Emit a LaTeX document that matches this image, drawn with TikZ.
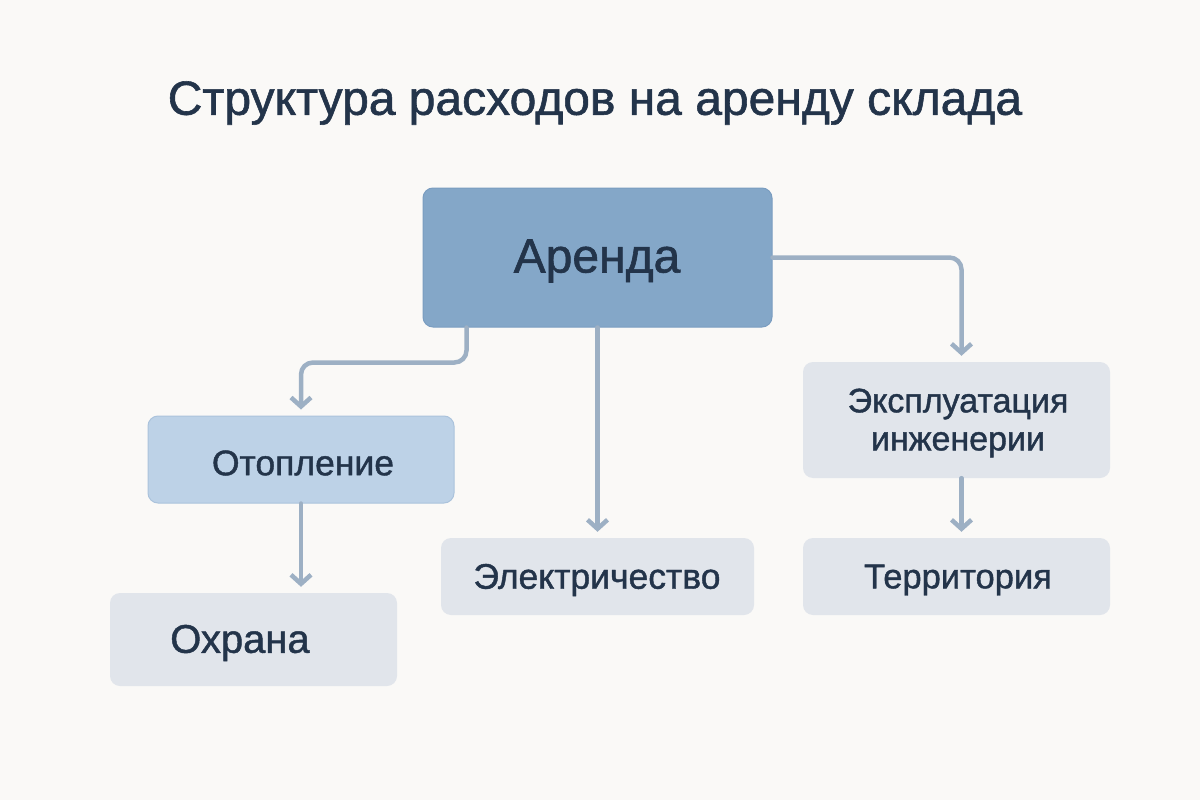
\documentclass[tikz,border=0pt]{standalone}
\usepackage{fontspec}
\setmainfont{Liberation Sans}[FakeBold=1.2]
\usetikzlibrary{arrows.meta}
\definecolor{bg}{HTML}{FAF9F7}
\definecolor{ink}{HTML}{23344A}
\definecolor{mainfill}{HTML}{84A7C8}
\definecolor{maindraw}{HTML}{7A9DC0}
\definecolor{midfill}{HTML}{BDD2E7}
\definecolor{middraw}{HTML}{ABC3DC}
\definecolor{lightfill}{HTML}{E1E5EB}
\definecolor{wire}{HTML}{9DB0C4}
\newcommand{\mw}{\addfontfeatures{FakeBold=1.2}}
\tikzset{
  box/.style={rectangle, rounded corners=10pt, text=ink, align=center, inner sep=0pt},
  mainbox/.style={box, fill=mainfill, draw=maindraw, line width=1pt, minimum width=349pt, minimum height=139pt},
  midbox/.style={box, fill=midfill, draw=middraw, line width=1pt, minimum width=306pt, minimum height=87pt},
  leafbox/.style={box, fill=lightfill, minimum width=307pt, minimum height=77pt},
  lbl/.style={text=ink, align=center, inner sep=0pt},
  arr/.style={draw=wire, line width=4.5pt, line cap=round, line join=round, rounded corners=12pt,
    -{Straight Barb[length=9pt,width=20pt]}, shorten >=6pt}
}
\begin{document}
\begin{tikzpicture}[x=1pt,y=-1pt]
\fill[bg] (0,0) rectangle (1200,800);
\useasboundingbox (0,0) rectangle (1200,800);
\node[lbl, font=\fontsize{48}{56}\selectfont\mw] (title) at (595,103) {Структура расходов на аренду склада};
\node[mainbox] (arenda) at (597.5,257.5) {};
\node[lbl, font=\fontsize{48}{56}\selectfont\mw] (arendat) at (597,261) {Аренда};
\node[midbox] (otop) at (301,459.5) {};
\node[lbl, font=\fontsize{35.5}{42}\selectfont\mw] (otopt) at (303,463) {Отопление};
\node[leafbox, minimum width=287pt, minimum height=93pt] (ohr) at (253.5,639.5) {};
\node[lbl, font=\fontsize{40}{46}\selectfont\mw] (ohrt) at (240,643) {Охрана};
\node[leafbox, minimum width=313pt] (elec) at (597.5,576.5) {};
\node[lbl, font=\fontsize{35.5}{42}\selectfont\mw] (elect) at (597,580) {Электричество};
\node[leafbox, minimum height=116pt] (expl) at (956.5,420) {};
\node[lbl, font=\fontsize{34}{38}\selectfont\mw] (explt) at (958,423) {Эксплуатация\\инженерии};
\node[leafbox] (terr) at (956.5,576.5) {};
\node[lbl, font=\fontsize{34.5}{40}\selectfont\mw] (terrt) at (958,580) {Территория};
\coordinate (a1) at ([xshift=44pt]arenda.south west);
\draw[arr] (a1) -- ++(0,35) -| (otop.north);
\draw[arr] (arenda.south) -- (elec.north);
\draw[arr] (arenda.east) -| ([xshift=5pt]expl.north);
\draw[arr] (otop.south) -- (otop.south |- ohr.north);
\draw[arr] ([xshift=5pt]expl.south) -- ([xshift=5pt]terr.north);
\end{tikzpicture}
\end{document}
